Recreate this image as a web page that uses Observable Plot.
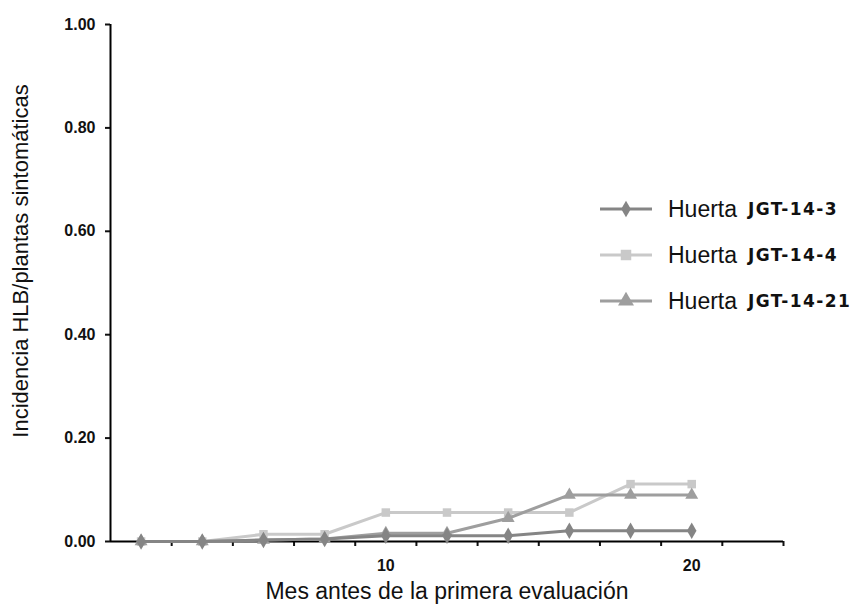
<!DOCTYPE html>
<html>
<head>
<meta charset="utf-8">
<script src="https://cdn.jsdelivr.net/npm/d3@7"></script>
<script src="https://cdn.jsdelivr.net/npm/@observablehq/plot@0.6"></script>
<style>
  html, body { margin: 0; padding: 0; background: #fff; }
  #wrap { position: relative; width: 868px; height: 606px; font-family: "Liberation Sans", Arial, sans-serif; }
  #legend { position: absolute; left: 598px; top: 186px; }
  .row { display: flex; align-items: center; height: 46px; white-space: nowrap; }
  .row svg { margin-right: 14px; }
  .h { font-size: 23px; color: #111; }
  .c { font-family: "DejaVu Sans", sans-serif; font-size: 17px; font-weight: bold; color: #111; margin-left: 11px; letter-spacing: 1.4px; }
</style>
</head>
<body>
<div id="wrap"></div>
<script>
const months = [2, 4, 6, 8, 10, 12, 14, 16, 18, 20];
const jgt143 = [0, 0, 0.003, 0.005, 0.011, 0.011, 0.011, 0.021, 0.021, 0.021];
const jgt144 = [0, 0, 0.014, 0.014, 0.056, 0.056, 0.056, 0.056, 0.111, 0.111];
const jgt1421 = [0, 0, 0.003, 0.005, 0.016, 0.016, 0.045, 0.090, 0.090, 0.090];
const seriesNames = ["JGT-14-3", "JGT-14-4", "JGT-14-21"];
const seriesColors = ["#858585", "#c9c9c9", "#9e9e9e"];
const seriesSymbols = ["diamond", "square", "triangle"];
const yTicks = [0, 0.2, 0.4, 0.6, 0.8, 1.0];
const xTickLabels = [10, 20];
const xTickMarks = [3, 5, 7, 9, 11, 13, 15, 17, 19, 21, 23];
const yLabel = "Incidencia HLB/plantas sintomáticas";
const xLabel = "Mes antes de la primera evaluación";

const seriesValues = [jgt143, jgt144, jgt1421];
const data = seriesValues.map((vals, i) => months.map((m, j) => ({ month: m, value: vals[j], series: seriesNames[i] })));

const drawOrder = [1, 2, 0];
const seriesMarks = [];
for (const i of drawOrder) {
  seriesMarks.push(Plot.line(data[i], { x: "month", y: "value", stroke: seriesColors[i], strokeWidth: 3 }));
  seriesMarks.push(Plot.dot(data[i], { x: "month", y: "value", symbol: seriesSymbols[i], fill: seriesColors[i], r: i === 0 ? 5 : 4.8 }));
}

const chart = Plot.plot({
  width: 868,
  height: 606,
  marginLeft: 110,
  marginRight: 85,
  marginTop: 24,
  marginBottom: 65,
  style: { fontFamily: "Liberation Sans, Arial, sans-serif", color: "#111", background: "white" },
  x: { domain: [1, 23] },
  y: { domain: [0, 1] },
  marks: [
    Plot.axisY({ ticks: yTicks, tickFormat: d3.format(".2f"), tickSize: 5, tickPadding: 10, fontSize: 16, fontWeight: "bold", strokeWidth: 2, label: null }),
    Plot.axisX({ ticks: xTickMarks, tickSize: 5, strokeWidth: 2, tickFormat: () => "", label: null }),
    Plot.axisX({ ticks: xTickLabels, tickSize: 0, tickPadding: 18, fontSize: 16, fontWeight: "bold", label: null }),
    Plot.ruleX([1], { stroke: "black", strokeWidth: 2 }),
    Plot.ruleY([0], { stroke: "black", strokeWidth: 2 }),
    ...seriesMarks,
    Plot.text([yLabel], { frameAnchor: "left", textAnchor: "middle", rotate: -90, dx: -90, dy: -22, fontSize: 22, fill: "#111" }),
    Plot.text([xLabel], { frameAnchor: "bottom", textAnchor: "middle", dy: 57, fontSize: 23, fill: "#111" })
  ]
});

const wrap = document.getElementById("wrap");
wrap.appendChild(chart);

const legend = document.createElement("div");
legend.id = "legend";
seriesNames.forEach((name, i) => {
  const row = document.createElement("div");
  row.className = "row";
  const sym = d3.create("svg").attr("width", 56).attr("height", 20);
  sym.append("line").attr("x1", 2).attr("x2", 54).attr("y1", 10).attr("y2", 10)
    .attr("stroke", seriesColors[i]).attr("stroke-width", 3);
  const symType = { diamond: d3.symbolDiamond, square: d3.symbolSquare, triangle: d3.symbolTriangle }[seriesSymbols[i]];
  sym.append("path").attr("transform", "translate(28,10)")
    .attr("d", d3.symbol(symType, i === 0 ? 80 : 110)())
    .attr("fill", seriesColors[i]);
  row.appendChild(sym.node());
  const h = document.createElement("span");
  h.className = "h";
  h.textContent = "Huerta";
  const c = document.createElement("span");
  c.className = "c";
  c.textContent = name;
  row.appendChild(h);
  row.appendChild(c);
  legend.appendChild(row);
});
wrap.appendChild(legend);
</script>
</body>
</html>
